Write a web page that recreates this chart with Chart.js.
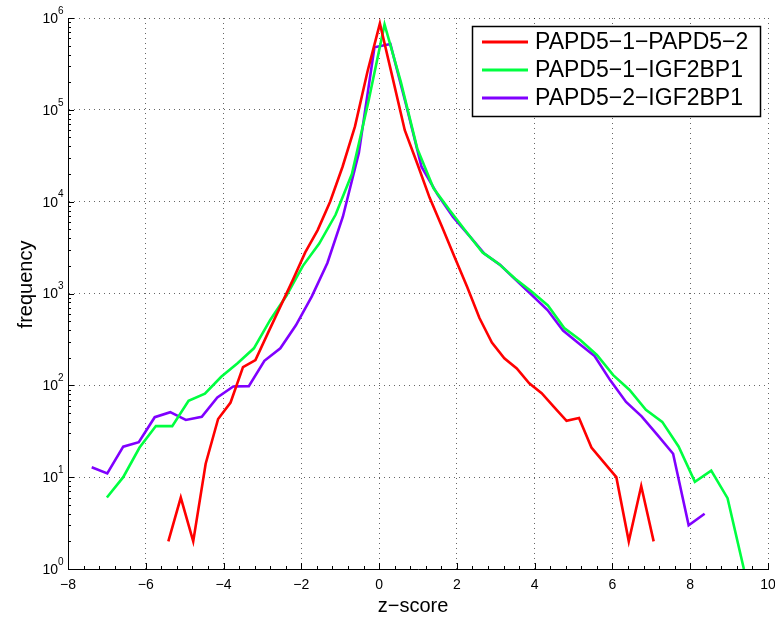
<!DOCTYPE html>
<html>
<head>
<meta charset="utf-8">
<script src="https://cdn.jsdelivr.net/npm/chart.js@4"></script>
<style>
  html, body { margin: 0; padding: 0; background: #fff; }
  #wrap { width: 775px; height: 617px; }
</style>
</head>
<body>
<div id="wrap"><canvas id="zChart"></canvas></div>
<script>
// z-score histograms, one per pair
const labels = ['PAPD5\u22121\u2212PAPD5\u22122', 'PAPD5\u22121\u2212IGF2BP1', 'PAPD5\u22122\u2212IGF2BP1'];
const colors = ['#ff0000', '#00ff40', '#8000ff'];

const redX = [-5.42, -5.10, -4.78, -4.46, -4.14, -3.82, -3.50, -3.18, -2.86, -2.54,
    -2.22, -1.90, -1.58, -1.26, -0.94, -0.62, -0.30, 0.02, 0.34, 0.66,
    0.98, 1.30, 1.62, 1.94, 2.26, 2.58, 2.90, 3.22, 3.54, 3.86,
    4.18, 4.50, 4.82, 5.14, 5.46, 5.78, 6.10, 6.42, 6.74, 7.06];
const redY = [2, 6, 2, 14, 43, 65, 158, 188, 370, 720,
    1400, 2800, 4900, 10000, 24000, 66000, 260000, 870000, 230000, 60000,
    26000, 11000, 5300, 2500, 1190, 540, 292, 197, 153, 105,
    82, 58, 41, 44, 21, 14.5, 10, 2, 8, 2];

const greenX = [-7.00, -6.58, -6.16, -5.74, -5.32, -4.90, -4.48, -4.06, -3.64, -3.22,
    -2.80, -2.38, -1.96, -1.54, -1.12, -0.70, -0.28, 0.14, 0.56, 0.98,
    1.40, 1.82, 2.24, 2.66, 3.08, 3.50, 3.92, 4.34, 4.76, 5.18,
    5.60, 6.02, 6.44, 6.86, 7.28, 7.70, 8.12, 8.54, 8.96, 9.38];
const greenY = [6, 10, 21, 36, 36, 68, 81, 124, 174, 253,
    515, 950, 2000, 3500, 7200, 20000, 120000, 850000, 200000, 38000,
    14000, 8000, 4700, 2800, 2100, 1450, 1050, 740, 420, 310,
    214, 129, 89, 54, 40, 21.6, 8.9, 11.8, 5.9, 1];

const purpleX = [-7.39, -6.99, -6.58, -6.18, -5.77, -5.37, -4.97, -4.56, -4.16, -3.75,
    -3.35, -2.95, -2.54, -2.14, -1.73, -1.33, -0.93, -0.52, -0.12, 0.29,
    0.69, 1.09, 1.50, 1.90, 2.31, 2.71, 3.11, 3.52, 3.92, 4.33,
    4.73, 5.13, 5.54, 5.94, 6.35, 6.75, 7.15, 7.56, 7.96, 8.37];
const purpleY = [12.8, 11, 21.5, 24, 45, 51, 42, 45.5, 74, 97,
    98, 185, 253, 450, 930, 2150, 6900, 34000, 480000, 520000,
    115000, 24000, 12000, 6800, 4300, 2700, 2050, 1400, 970, 660,
    395, 288, 209, 114, 66, 46, 29, 18, 3, 4];

const xTicks = [-8, -6, -4, -2, 0, 2, 4, 6, 8, 10];
const yDecades = [0, 1, 2, 3, 4, 5, 6];

const FONT = '"Liberation Sans", Arial, Helvetica, sans-serif';

function pts(xs, ys) {
    return xs.map((x, i) => ({ x: x, y: ys[i] }));
}

function minusSign(v) {
    return v < 0 ? '\u2212' + Math.abs(v) : String(v);
}

// tick marks, y labels with exponents, axis titles and the legend box
const decor = {
    id: 'decor',
    afterDraw(chart) {
        const { ctx, chartArea: a, scales: { x, y } } = chart;
        ctx.save();
        ctx.strokeStyle = '#000';
        ctx.lineWidth = 1;

        // x ticks, minor every 0.4
        ctx.beginPath();
        for (let i = 0; i <= 45; i++) {
            const v = -8 + i * 0.4;
            const px = Math.round(x.getPixelForValue(v)) + 0.5;
            const len = (i % 5 === 0) ? 6 : 3;
            ctx.moveTo(px, a.bottom);
            ctx.lineTo(px, a.bottom - len);
        }
        // y ticks, log minor 2..9
        yDecades.forEach(e => {
            const py = Math.round(y.getPixelForValue(Math.pow(10, e))) + 0.5;
            ctx.moveTo(a.left, py);
            ctx.lineTo(a.left + 6, py);
            if (e < 6) {
                for (let m = 2; m <= 9; m++) {
                    const pm = Math.round(y.getPixelForValue(m * Math.pow(10, e))) + 0.5;
                    ctx.moveTo(a.left, pm);
                    ctx.lineTo(a.left + 3, pm);
                }
            }
        });
        ctx.stroke();

        // y labels 10^e
        ctx.fillStyle = '#000';
        ctx.textBaseline = 'middle';
        yDecades.forEach(e => {
            const py = y.getPixelForValue(Math.pow(10, e));
            ctx.font = '14px ' + FONT;
            ctx.textAlign = 'right';
            ctx.fillText('10', a.left - 10, py + 1);
            ctx.font = '10px ' + FONT;
            ctx.textAlign = 'left';
            ctx.fillText(String(e), a.left - 10, py - 7);
        });

        // axis titles
        ctx.font = '20px ' + FONT;
        ctx.textAlign = 'center';
        ctx.fillText('z\u2212score', (a.left + a.right) / 2 - 5, 606);
        ctx.save();
        ctx.translate(26, (a.top + a.bottom) / 2 - 9);
        ctx.rotate(-Math.PI / 2);
        ctx.fillText('frequency', 0, 0);
        ctx.restore();

        // legend
        const bx = a.right - 296, by = a.top + 8, bw = 288, bh = 90;
        ctx.fillStyle = '#fff';
        ctx.fillRect(bx, by, bw, bh);
        ctx.strokeStyle = '#000';
        ctx.lineWidth = 1.5;
        ctx.strokeRect(bx + 0.5, by + 0.5, bw, bh);
        ctx.font = '23px ' + FONT;
        ctx.textAlign = 'left';
        chart.data.datasets.forEach((ds, i) => {
            const ry = by + 16 + i * 28;
            ctx.strokeStyle = ds.borderColor;
            ctx.lineWidth = 3;
            ctx.beginPath();
            ctx.moveTo(bx + 10, ry);
            ctx.lineTo(bx + 56, ry);
            ctx.stroke();
            ctx.fillStyle = '#000';
            ctx.fillText(ds.label, bx + 63, ry + 1);
        });
        ctx.restore();
    }
};

const series = [pts(redX, redY), pts(greenX, greenY), pts(purpleX, purpleY)];

new Chart(document.getElementById('zChart').getContext('2d'), {
    type: 'line',
    data: {
        datasets: series.map((d, i) => ({
            label: labels[i],
            data: d,
            borderColor: colors[i],
            backgroundColor: colors[i],
            borderWidth: 2.6,
            pointRadius: 0,
            tension: 0,
            fill: false
        }))
    },
    options: {
        responsive: true,
        maintainAspectRatio: false,
        animation: false,
        layout: { padding: { top: 18, right: 7, left: 0, bottom: 0 } },
        scales: {
            x: {
                type: 'linear',
                min: -8,
                max: 10,
                afterBuildTicks: scale => {
                    scale.ticks = xTicks.map(v => ({ value: v }));
                },
                afterFit: scale => {
                    scale.height = 48;
                    scale.paddingLeft = 0;
                    scale.paddingRight = 0;
                },
                ticks: {
                    autoSkip: false,
                    maxRotation: 0,
                    padding: 8,
                    color: '#000',
                    font: { family: FONT, size: 14 },
                    callback: v => minusSign(v)
                },
                grid: {
                    color: 'rgba(0,0,0,0.6)',
                    lineWidth: 1,
                    drawTicks: false
                },
                border: { display: true, color: '#000', width: 1, dash: [1, 4] }
            },
            y: {
                type: 'logarithmic',
                min: 1,
                max: 1000000,
                afterBuildTicks: scale => {
                    scale.ticks = yDecades.map(e => ({ value: Math.pow(10, e) }));
                },
                afterFit: scale => {
                    scale.width = 68;
                    scale.paddingTop = 0;
                    scale.paddingBottom = 0;
                },
                ticks: { display: false },
                grid: {
                    color: 'rgba(0,0,0,0.6)',
                    lineWidth: 1,
                    drawTicks: false
                },
                border: { display: true, color: '#000', width: 1, dash: [1, 4] }
            }
        },
        plugins: {
            legend: { display: false },
            tooltip: { enabled: false }
        }
    },
    plugins: [decor]
});
</script>
</body>
</html>
